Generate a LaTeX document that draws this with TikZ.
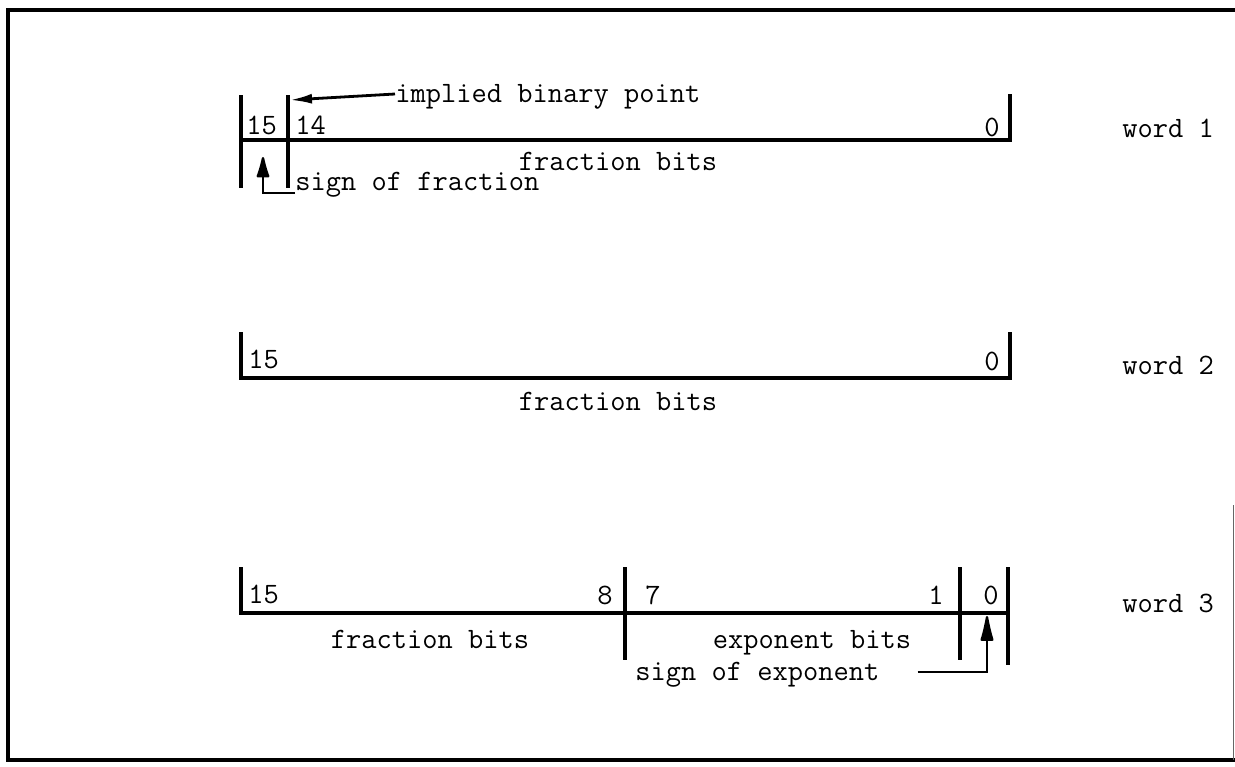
\documentclass[tikz,border=0pt]{standalone}
\usetikzlibrary{arrows.meta,positioning}
\tikzset{
	field/.style={line width=1.8pt},
	frame/.style={line width=2.4pt},
	lbl/.style={font=\fontsize{14.8}{17}\selectfont\ttfamily, inner sep=0pt},
	pointer/.style={line width=1.4pt, -{Latex[length=11pt,width=5pt]}},
	signptr/.style={line width=1.2pt, -{Latex[round,length=#1,width=7pt]}},
}
\begin{document}
\begin{tikzpicture}[x=0.5pt,y=-0.5pt]
	\useasboundingbox (0,0) rectangle (1235,766);
	% frame
	\draw[frame] (1235,10) -- (8,10) -- (8,760) -- (1235,760);
	\draw[line width=0.4pt, black!60] (1233,505) -- (1233,760);
	%
	% word 1
	\draw[field] (241,95) -- (241,188);
	\draw[field] (288,95) -- (288,188);
	\draw[field] (241,140) -- (1010,140) -- (1010,94);
	\node[lbl, anchor=base west] (b15a) at (246,134) {15};
	\node[lbl, anchor=base west] (b14a) at (295,134) {14};
	\node[lbl, anchor=base east] (b0a) at (1000,136) {0};
	\node[lbl, anchor=base west] (ibp) at (395,102) {implied binary point};
	\node[lbl, anchor=base] (frac1) at (618,170) {fraction bits};
	\node[lbl, anchor=base west] (sfrac) at (295,190) {sign of fraction};
	\node[lbl, anchor=base west] (word1) at (1122,137) {word 1};
	\coordinate (ibptip) at (290,100);
	\coordinate (sfturn) at (263,193);
	\coordinate (sftip) at (263,157);
	\draw[pointer] (ibp.west |- 0,94) -- (ibptip);
	\draw[signptr=13pt] (sfrac.west |- sfturn) -- (sfturn) -- (sftip);
	%
	% word 2
	\draw[field] (241,332) -- (241,378) -- (1010,378) -- (1010,332);
	\node[lbl, anchor=base west] (b15b) at (248,368) {15};
	\node[lbl, anchor=base east] (b0b) at (1000,370) {0};
	\node[lbl, anchor=base] (frac2) at (618,410) {fraction bits};
	\node[lbl, anchor=base west] (word2) at (1122,374) {word 2};
	%
	% word 3
	\draw[field] (241,567) -- (241,613) -- (1008,613);
	\draw[field] (625,567) -- (625,660);
	\draw[field] (960,567) -- (960,660);
	\draw[field] (1008,567) -- (1008,665);
	\node[lbl, anchor=base west] (b15c) at (248,603) {15};
	\node[lbl, anchor=base east] (b8c) at (613,604) {8};
	\node[lbl, anchor=base west] (b7c) at (645,604) {7};
	\node[lbl, anchor=base east] (b1c) at (944,604) {1};
	\node[lbl, anchor=base west] (b0c) at (983,604) {0};
	\node[lbl, anchor=base] (frac3) at (430,648) {fraction bits};
	\node[lbl, anchor=base] (expo3) at (812,648) {exponent bits};
	\node[lbl, anchor=base west] (sexp) at (635,680) {sign of exponent};
	\node[lbl, anchor=base west] (word3) at (1122,612) {word 3};
	\coordinate (seturn) at (987,672);
	\coordinate (setip) at (987,616);
	\draw[signptr=16pt] ([xshift=19pt]sexp.east |- seturn) -- (seturn) -- (setip);
\end{tikzpicture}
\end{document}
